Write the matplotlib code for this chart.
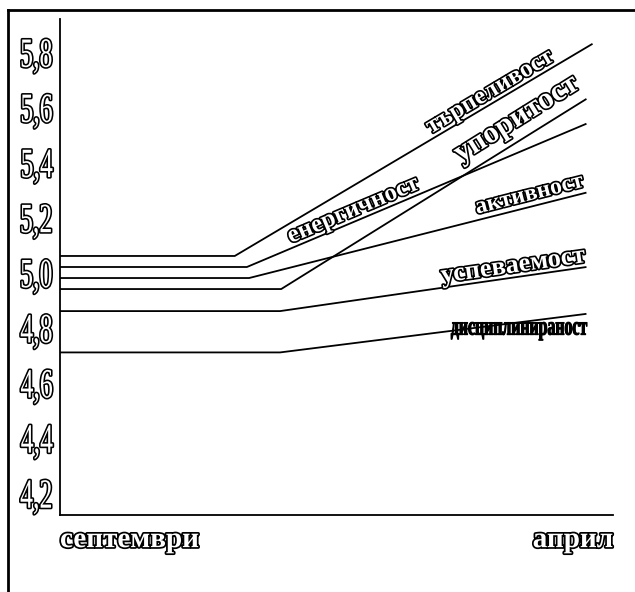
import numpy as np
import matplotlib
matplotlib.use("Agg")
import matplotlib.pyplot as plt
import matplotlib.colors as mcolors
from matplotlib.patheffects import AbstractPathEffect
from matplotlib.transforms import Affine2D
from matplotlib.lines import Line2D

# ---------------- data ----------------
series_names = ["търпеливост", "енергичност", "активност", "упоритост",
                "успеваемост", "дисциплинираност"]
start_values = [5.06, 5.02, 4.98, 4.94, 4.86, 4.71]   # септември
end_values = [5.83, 5.54, 5.29, 5.63, 5.02, 4.85]     # април
knot_x = [0.316, 0.338, 0.342, 0.400, 0.398, 0.398]   # where the rise starts
end_x = [0.963, 0.952, 0.952, 0.952, 0.952, 0.952]
x_labels = ["септември", "април"]
y_ticks = [4.2, 4.4, 4.6, 4.8, 5.0, 5.2, 5.4, 5.6, 5.8]
y_tick_labels = ["4,2", "4,4", "4,6", "4,8", "5,0", "5,2", "5,4", "5,6", "5,8"]


class OutlineSqueeze(AbstractPathEffect):
    """Outlined glyphs, optionally compressed horizontally."""
    def __init__(self, sx=1.0, pivot="center", lw=1.5, edge="black", face="white"):
        super().__init__()
        self.sx, self.pivot, self.lw = sx, pivot, lw
        self.edge, self.face = edge, face

    def draw_path(self, renderer, gc, tpath, affine, rgbFace=None):
        if self.sx != 1.0:
            ext = tpath.get_extents(affine)
            px = {"left": ext.x0, "right": ext.x1}.get(self.pivot, 0.5 * (ext.x0 + ext.x1))
            affine = affine + Affine2D().translate(-px, 0).scale(self.sx, 1).translate(px, 0)
        g0 = renderer.new_gc()
        g0.copy_properties(gc)
        g0.set_linewidth(self.lw)
        g0.set_foreground(self.edge)
        g0.set_joinstyle("round")
        renderer.draw_path(g0, tpath, affine, mcolors.to_rgba(self.edge))
        g0.restore()
        g1 = renderer.new_gc()
        g1.copy_properties(gc)
        g1.set_linewidth(0)
        renderer.draw_path(g1, tpath, affine, mcolors.to_rgba(self.face))
        g1.restore()


SERIF = "Liberation Serif"

fig = plt.figure(figsize=(6.35, 5.92), dpi=100)
fig.patch.set_facecolor("white")
ax = fig.add_axes([60 / 635, 77 / 592, 553 / 635, 496 / 592])
ax.set_xlim(0, 1)
ax.set_ylim(4.12, 5.92)

for i in range(len(series_names)):
    xs = [0.0, knot_x[i], end_x[i]]
    ys = [start_values[i], start_values[i], end_values[i]]
    ax.plot(xs, ys, color="black", lw=1.3, solid_capstyle="butt")

for s in ["top", "right"]:
    ax.spines[s].set_visible(False)
for s in ["left", "bottom"]:
    ax.spines[s].set_linewidth(1.3)

ax.set_yticks(y_ticks, labels=y_tick_labels)
ax.tick_params(axis="y", length=0, pad=5)
for t in ax.get_yticklabels():
    t.set_fontfamily(SERIF)
    t.set_fontsize(30)
    t.set_path_effects([OutlineSqueeze(sx=0.62, pivot="right", lw=2.3)])

ax.set_xticks([0, 1], labels=x_labels)
ax.tick_params(axis="x", length=0, pad=8)
xt = ax.get_xticklabels()
xt[0].set_ha("left")
xt[1].set_ha("right")
for t in xt:
    t.set_fontfamily(SERIF)
    t.set_fontweight("bold")
    t.set_fontsize(21)
    t.set_path_effects([OutlineSqueeze(sx=1.0, lw=2.5)])


def line_y(i, x):
    return np.interp(x, [0.0, knot_x[i], end_x[i]],
                     [start_values[i], start_values[i], end_values[i]])


def line_angle(i):
    p0 = ax.transData.transform((knot_x[i], start_values[i]))
    p1 = ax.transData.transform((end_x[i], end_values[i]))
    return np.degrees(np.arctan2(p1[1] - p0[1], p1[0] - p0[0]))


# label placement: (series index, x of right end, font size, va, dy points, rotate)
label_specs = [
    (0, 0.900, 18, "bottom", 0, True),
    (1, 0.656, 18, "bottom", 0, True),
    (2, 0.952, 17, "bottom", 1, True),
    (3, 0.952, 22, "bottom", 4, True),
    (4, 0.952, 19, "bottom", 0, True),
    (5, 0.952, 19, "top", 2, False),
]
for idx, xr, fs, va, dy, rot in label_specs:
    ang = line_angle(idx) if rot else 0.0
    ddx = -np.sin(np.radians(ang)) * dy
    ddy = np.cos(np.radians(ang)) * dy
    if va == "top":
        ddy = -dy
    t = ax.annotate(series_names[idx], xy=(xr, line_y(idx, xr)), xycoords="data",
                    xytext=(ddx, ddy), textcoords="offset points",
                    ha="right", va=va, rotation=ang, rotation_mode="anchor",
                    fontfamily=SERIF, fontweight="bold", fontsize=fs)
    if idx == 5:
        t.set_path_effects([OutlineSqueeze(sx=0.6, pivot="right", lw=0.8, face="black")])
    else:
        t.set_path_effects([OutlineSqueeze(sx=1.0, lw=2.4)])

# outer frame (open at right and bottom, as in the source)
W, H = 635, 592
fig.add_artist(Line2D([8 / W, 1.0], [1 - 10 / H, 1 - 10 / H], color="black", lw=2,
                      transform=fig.transFigure, solid_capstyle="projecting"))
fig.add_artist(Line2D([8 / W, 8 / W], [1 - 10 / H, 0.0], color="black", lw=2,
                      transform=fig.transFigure, solid_capstyle="projecting"))

fig.savefig("out.png", dpi=100)
